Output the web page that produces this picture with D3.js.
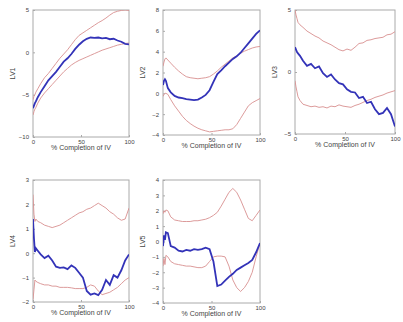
<!DOCTYPE html>
<html>
<head>
  <meta charset="utf-8">
  <title>LV by % Completion of IV</title>
  <script src="https://d3js.org/d3.v7.min.js"></script>
  <style>
    body { margin: 0; background: white; }
    .canvas { background-color: white; }
    text { font-family: Arial, "Liberation Sans", sans-serif; fill: #444; }
    .box { fill: none; stroke: #aaa; stroke-width: 1; }
    .tick line { stroke: #aaa; }
    .domain { display: none; }
  </style>
</head>
<body>
<script>
  // Data: % completion grid shared by every panel
  var pct = [0, 1, 2, 3, 5, 8, 12, 16, 20, 24, 28, 32, 36, 40, 44, 48, 52, 56, 60, 64, 68, 72, 76, 80, 84, 88, 92, 96, 100];

  var lv1Mean  = [-6.6, -6.3, -6.0, -5.8, -5.3, -4.7, -4.0, -3.3, -2.8, -2.3, -1.7, -1.1, -0.7, -0.2, 0.4, 0.9, 1.3, 1.6, 1.75, 1.7, 1.75, 1.65, 1.7, 1.55, 1.6, 1.4, 1.25, 1.0, 0.95];
  var lv1Upper = [-5.6, -5.2, -5.0, -4.7, -4.3, -3.7, -3.0, -2.5, -1.9, -1.3, -0.7, -0.2, 0.3, 0.9, 1.5, 2.0, 2.3, 2.6, 2.9, 3.2, 3.5, 3.75, 4.05, 4.4, 4.7, 4.85, 4.95, 5.0, 4.95];
  var lv1Lower = [-7.4, -7.0, -6.7, -6.5, -6.0, -5.4, -4.8, -4.3, -3.8, -3.3, -2.8, -2.3, -1.9, -1.5, -1.2, -0.95, -0.75, -0.55, -0.35, -0.15, 0.05, 0.25, 0.4, 0.55, 0.7, 0.85, 0.95, 1.05, 1.1];

  var lv2Mean  = [0.8, 1.2, 1.35, 1.2, 0.5, 0.1, -0.25, -0.4, -0.45, -0.55, -0.6, -0.65, -0.6, -0.4, -0.15, 0.3, 1.1, 1.85, 2.2, 2.6, 2.95, 3.3, 3.55, 3.9, 4.35, 4.8, 5.25, 5.7, 6.05];
  var lv2Upper = [2.6, 3.0, 3.3, 3.4, 3.2, 2.9, 2.5, 2.15, 1.85, 1.6, 1.5, 1.45, 1.4, 1.45, 1.5, 1.6, 1.85, 2.15, 2.5, 2.8, 3.1, 3.4, 3.6, 3.85, 4.05, 4.2, 4.35, 4.45, 4.5];
  var lv2Lower = [-0.3, -0.1, 0.0, 0.0, -0.1, -0.6, -1.2, -1.7, -2.2, -2.6, -2.9, -3.15, -3.35, -3.5, -3.6, -3.7, -3.65, -3.6, -3.55, -3.5, -3.5, -3.4, -3.0, -2.4, -1.8, -1.2, -0.9, -0.7, -0.5];

  var lv3Mean  = [2.0, 1.8, 1.6, 1.5, 1.3, 0.9, 0.5, 0.65, 0.3, 0.45, -0.1, -0.4, -0.2, -0.6, -0.9, -1.0, -1.4, -1.6, -1.65, -2.1, -2.0, -2.5, -2.4, -3.0, -3.4, -3.3, -2.9, -3.4, -4.4];
  var lv3Upper = [5.0, 4.6, 4.3, 4.0, 3.8, 3.6, 3.3, 3.1, 2.9, 2.75, 2.5, 2.35, 2.2, 2.0, 1.8, 1.7, 1.85, 1.75, 2.0, 2.3, 2.35, 2.55, 2.6, 2.7, 2.75, 2.8, 3.0, 3.05, 3.25];
  var lv3Lower = [-0.7, -1.2, -1.6, -2.0, -2.3, -2.6, -2.7, -2.8, -2.75, -2.85, -2.8, -2.9, -2.75, -2.8, -2.65, -2.75, -2.8, -2.85, -2.7, -2.6, -2.45, -2.3, -2.2, -2.05, -1.95, -1.85, -1.7, -1.6, -1.5];

  var lv4Mean  = [1.4, 0.6, 0.05, 0.2, 0.1, -0.05, -0.2, -0.1, -0.3, -0.55, -0.6, -0.58, -0.65, -0.5, -0.6, -0.8, -1.0, -1.55, -1.7, -1.65, -1.72, -1.5, -1.1, -1.3, -0.9, -1.0, -0.7, -0.3, -0.05];
  var lv4Upper = [2.4, 1.6, 1.3, 1.4, 1.3, 1.25, 1.15, 1.1, 1.05, 1.1, 1.15, 1.25, 1.35, 1.45, 1.55, 1.65, 1.7, 1.8, 1.85, 1.95, 2.05, 1.95, 1.85, 1.7, 1.6, 1.45, 1.35, 1.4, 1.85];
  var lv4Lower = [-1.9, -1.5, -1.1, -1.15, -1.2, -1.25, -1.3, -1.3, -1.35, -1.35, -1.4, -1.4, -1.4, -1.42, -1.45, -1.45, -1.45, -1.4, -1.3, -1.35, -1.55, -1.7, -1.65, -1.6, -1.5, -1.4, -1.25, -1.1, -1.0];

  var lv5Mean  = [-0.3, 0.4, 0.1, 0.6, 0.55, -0.3, -0.4, -0.6, -0.65, -0.55, -0.6, -0.5, -0.55, -0.5, -0.4, -0.5, -1.3, -2.9, -2.8, -2.55, -2.3, -2.1, -1.85, -1.7, -1.55, -1.4, -1.2, -0.7, -0.1];
  var lv5Upper = [1.8, 2.0, 1.9, 2.05, 2.0, 1.6, 1.4, 1.35, 1.3, 1.3, 1.3, 1.35, 1.35, 1.4, 1.45, 1.55, 1.7, 1.9, 2.3, 2.75, 3.2, 3.45, 3.2, 2.7, 2.1, 1.5, 1.35, 1.7, 2.05];
  var lv5Lower = [-1.6, -1.1, -1.5, -0.9, -1.0, -1.3, -1.45, -1.5, -1.55, -1.6, -1.6, -1.65, -1.7, -1.7, -1.6, -1.3, -1.0, -0.95, -0.95, -1.0, -1.6, -2.5, -3.0, -3.25, -3.0, -2.6, -2.0, -1.0, -0.1];

  // Axis settings
  var xTicks = [0, 50, 100];
  var xLabel = "% Completion of IV";
  var names = ["LV1", "LV2", "LV3", "LV4", "LV5"];
  var yDomains = [[-10, 5], [-4, 8], [-5, 5], [-2, 3], [-4, 4]];
  var yTicks = [
    [-10, -5, 0, 5],
    [-4, -2, 0, 2, 4, 6, 8],
    [-5, 0, 5],
    [-2, -1, 0, 1, 2, 3],
    [-4, -3, -2, -1, 0, 1, 2, 3, 4]
  ];
  var means = [lv1Mean, lv2Mean, lv3Mean, lv4Mean, lv5Mean];
  var uppers = [lv1Upper, lv2Upper, lv3Upper, lv4Upper, lv5Upper];
  var lowers = [lv1Lower, lv2Lower, lv3Lower, lv4Lower, lv5Lower];

  // Layout of the five axes (pixels)
  var boxes = [
    {left: 33, top: 10, w: 96, h: 127},
    {left: 163, top: 10, w: 97, h: 125},
    {left: 295, top: 10, w: 100, h: 124},
    {left: 33, top: 180, w: 96, h: 122},
    {left: 163, top: 180, w: 97, h: 123}
  ];

  var width = 403;
  var height = 322;

  var svg = d3.select("body")
              .append("svg")
              .attr("width", width)
              .attr("height", height)
              .attr("class", "canvas");

  boxes.forEach(function(b, i) {
    var g = svg.append("g")
               .attr("transform", "translate(" + b.left + "," + b.top + ")");

    var x = d3.scaleLinear().domain([0, 100]).range([0, b.w]);
    var y = d3.scaleLinear().domain(yDomains[i]).range([b.h, 0]);

    var clipId = "clip" + i;
    g.append("clipPath").attr("id", clipId)
     .append("rect").attr("width", b.w).attr("height", b.h);

    // axes (ticks inside, matlab style)
    g.append("g")
        .attr("transform", "translate(0," + b.h + ")")
        .call(d3.axisBottom(x).tickValues(xTicks).tickSize(-2).tickPadding(3))
        .selectAll("text").style("font-size", "6px");
    g.append("g")
        .call(d3.axisLeft(y).tickValues(yTicks[i]).tickFormat(d3.format("d")).tickSize(-2).tickPadding(4))
        .selectAll("text").style("font-size", "6px");

    g.append("rect")
        .attr("class", "box")
        .attr("width", b.w)
        .attr("height", b.h);

    var line = d3.line()
        .x(function(d, j) { return x(pct[j]); })
        .y(function(d) { return y(d); });

    var lines = g.append("g").attr("clip-path", "url(#" + clipId + ")");
    [uppers[i], lowers[i]].forEach(function(s) {
      lines.append("path")
          .datum(s)
          .attr("fill", "none")
          .attr("stroke", "#d89090")
          .attr("stroke-width", 0.9)
          .attr("d", line);
    });
    lines.append("path")
        .datum(means[i])
        .attr("fill", "none")
        .attr("stroke", "#3333b8")
        .attr("stroke-width", 1.8)
        .attr("d", line);

    // labels
    g.append("text")
        .attr("x", b.w / 2)
        .attr("y", b.h + 13)
        .attr("text-anchor", "middle")
        .style("font-size", "7px")
        .text(xLabel);
    g.append("text")
        .attr("transform", "translate(-18," + (b.h / 2) + ") rotate(-90)")
        .attr("text-anchor", "middle")
        .style("font-size", "7px")
        .text(names[i]);
  });
</script>
</body>
</html>
